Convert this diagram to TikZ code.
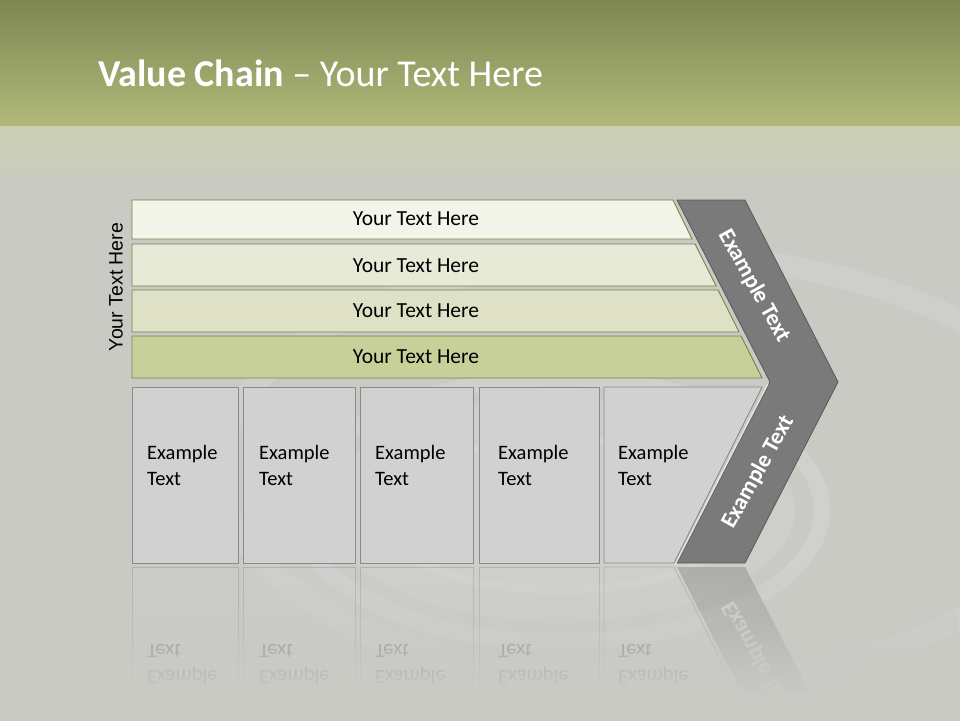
\documentclass[tikz,border=0pt]{standalone}
\usepackage{fontspec}
\setmainfont{Carlito}
\newfontfamily\arialf{Liberation Sans}
\usetikzlibrary{fadings}
\definecolor{bgc}{HTML}{C9CAC4}
\definecolor{oltop}{HTML}{7E8752}
\definecolor{olbot}{HTML}{B1B97A}
\definecolor{olfade}{HTML}{CDD0B5}
\definecolor{barA}{HTML}{F3F4EA}
\definecolor{barB}{HTML}{E7EAD6}
\definecolor{barC}{HTML}{DEE1C5}
\definecolor{barD}{HTML}{C8D09A}
\definecolor{barline}{HTML}{7A8048}
\definecolor{boxfill}{HTML}{D1D1D1}
\definecolor{boxline}{HTML}{8A8A8A}
\definecolor{chevfill}{HTML}{7A7A7A}
\definecolor{chevline}{HTML}{595959}
\tikzfading[name=fadedown, top color=transparent!100, bottom color=transparent!0]
\tikzset{
  barst/.style={draw=barline, line width=0.9pt},
  bartxt/.style={font=\fontsize{21.5}{25}\selectfont, text=black},
  boxst/.style={draw=boxline, fill=boxfill, line width=0.9pt},
  boxtxt/.style={font=\fontsize{20.5}{26}\selectfont, align=left, anchor=west, inner sep=0pt, text=black},
  chev/.style={draw=chevline, fill=chevfill, line width=0.8pt},
  chevtxt/.style={font=\bfseries\fontsize{23}{26}\selectfont, text=white, inner sep=0pt},
}
\newcommand\lowerrow[1]{%
  \foreach \i/\xa/\xb/\tx in {1/132/238/147, 2/243/355/259, 3/360/473/375, 4/479/599/498}{
    \draw[boxst] (\xa,387) rectangle (\xb,563);
    \node[boxtxt] (ex#1\i) at (\tx,465) {Example\\Text};
  }
  \draw[boxst] (604,387) -- (762,387) -- (674,563) -- (604,563) -- cycle;
  \node[boxtxt] (ex#15) at (618,465) {Example\\Text};
}
\begin{document}
\begin{tikzpicture}[x=1pt, y=-1pt]
\useasboundingbox (0,0) rectangle (960,720);
% background
\fill[bgc] (0,0) rectangle (960,720);
\shade[top color=oltop, bottom color=olbot] (0,0) rectangle (960,126);
\shade[top color=olfade, bottom color=bgc] (0,126) rectangle (960,195);
% ripple
\begin{scope}[white]
  \draw[opacity=0.10, line width=22pt] (650,470) ellipse [x radius=430, y radius=215];
  \draw[opacity=0.14, line width=16pt] (560,510) ellipse [x radius=262, y radius=132];
  \fill[opacity=0.10] (560,510) ellipse [x radius=235, y radius=112];
  \draw[opacity=0.12, line width=8pt] (560,515) ellipse [x radius=180, y radius=75];
\end{scope}
% title
\node[anchor=base west, inner sep=0pt, text=white, font=\fontsize{38}{43}\selectfont] (title) at (98,86) {\bfseries Value Chain\mdseries{} – Your Text Here};
% side label
\node[rotate=90, font=\arialf\fontsize{19.5}{23}\selectfont, text=black] (side) at (116,287) {Your Text Here};
% bars
\draw[barst, fill=barA] (132,200) -- (673,200) -- (692,239) -- (132,239) -- cycle;
\draw[barst, fill=barB] (132,244) -- (695,244) -- (716,286) -- (132,286) -- cycle;
\draw[barst, fill=barC] (132,290) -- (718,290) -- (739,332) -- (132,332) -- cycle;
\draw[barst, fill=barD] (132,336) -- (741,336) -- (762,378) -- (132,378) -- cycle;
\node[bartxt] (t1) at (416,219) {Your Text Here};
\node[bartxt] (t2) at (416,266) {Your Text Here};
\node[bartxt] (t3) at (416,311) {Your Text Here};
\node[bartxt] (t4) at (416,357) {Your Text Here};
% chevron
\draw[chev] (677,200) -- (745,200) -- (838,382) -- (745,563) -- (677,563) -- (770,382) -- cycle;
\draw[white, opacity=0.6, line width=1.2pt] (675,565) -- (768,384);
\node[chevtxt, rotate=-61] (cu) at (754,286) {Example Text};
\node[chevtxt, rotate=61] (cl) at (758,472) {Example Text};
% lower boxes
\lowerrow{a}
% reflection
\begin{scope}
  \clip (0,565) rectangle (960,695);
  \begin{scope}[shift={(0,1130)}, yscale=-1, transform shape, opacity=0.4]
    \lowerrow{r}
    \fill[chevfill] (770,382) -- (838,382) -- (745,563) -- (677,563) -- cycle;
    \node[chevtxt, rotate=61] (clr) at (758,472) {Example Text};
  \end{scope}
\end{scope}
\fill[bgc, path fading=fadedown] (0,565) rectangle (960,695);
\fill[bgc] (0,694) rectangle (960,730);
\end{tikzpicture}
\end{document}
